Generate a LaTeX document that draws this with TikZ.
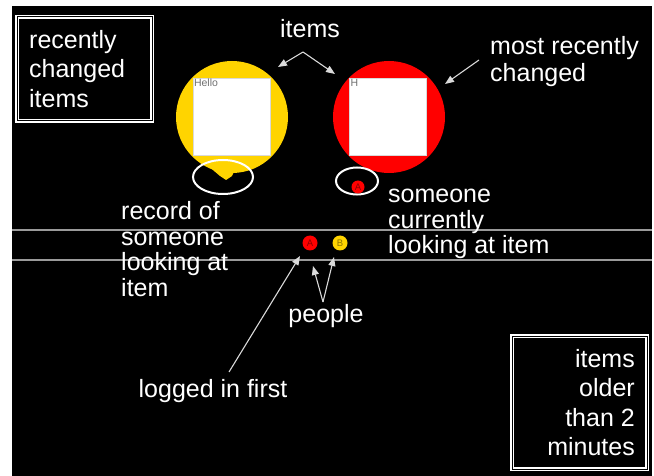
\documentclass[tikz,border=0pt]{standalone}
\usepackage{fontspec}
\setmainfont{Liberation Sans}
\usetikzlibrary{arrows.meta}
\definecolor{gold}{HTML}{FFD400}
\definecolor{itemred}{HTML}{FF0000}
\definecolor{rulegray}{HTML}{9A9A9A}
\definecolor{pointer}{HTML}{DADADA}
\definecolor{capgray}{HTML}{707070}
\begin{document}
\begin{tikzpicture}[x=1pt,y=-1pt,
  big/.style={text=white,inner sep=0pt,font=\fontsize{25}{29.5}\selectfont},
  mid/.style={text=white,inner sep=0pt,font=\fontsize{25}{25.5}\selectfont},
  frame/.style={draw=white,double=black,double distance=1pt,line width=1.1pt},
  arr/.style={draw=pointer,line width=1.1pt,-{Triangle[length=9pt,width=7pt]}},
  ring/.style={draw=white,line width=2pt},
  item/.style={circle,inner sep=0pt,minimum size=112pt},
  card/.style={fill=white,draw=black!15,line width=0.4pt,minimum width=77pt,minimum height=77pt,inner sep=0pt},
  cardtext/.style={text=capgray,inner sep=1pt,font=\fontsize{10.5}{10.5}\selectfont},
  dot/.style={circle,inner sep=0pt,minimum size=15pt,font=\fontsize{9.5}{9.5}\selectfont}
]
% page and black canvas
\useasboundingbox (0,0) rectangle (654,476);
\fill[white] (0,0) rectangle (654,476);
\fill[black] (12,6) rectangle (652,476);

% the two time-band rules
\draw[rulegray,line width=1.6pt] (12,230) -- (652,230);
\draw[rulegray,line width=1.6pt] (12,260) -- (652,260);

% framed captions
\draw[frame] (17,17) rectangle (152,121);
\node[big,anchor=north west,align=left] (recent) at (29,30) {recently\\changed\\items};
\draw[frame] (512,336) rectangle (647,469);
\node[big,anchor=north east,align=right] (older) at (635,349) {items\\older\\than 2\\minutes};

% older item (yellow) with its trailing pointer
\node[item,fill=gold] (itemY) at (232,117) {};
\fill[gold] (207,165) -- (237,165) -- (232,176) -- (226,180) -- (220,176) -- cycle;
\node[card] (cardY) at (231.5,116.5) {};
\node[cardtext,anchor=north west] (helloY) at (cardY.north west) {Hello};
\draw[ring] (223,177) ellipse [x radius=30, y radius=17];

% newest item (red)
\node[item,fill=itemred] (itemR) at (389,117) {};
\node[card] (cardR) at (388,117) {};
\node[cardtext,anchor=north west] (helloR) at (cardR.north west) {H};
\draw[ring] (357,181) ellipse [x radius=21, y radius=13.5];
\node[dot,fill=itemred,minimum size=13pt,text=itemred!55!black] (viewer) at (358,187) {A};

% people in the active band
\node[dot,fill=itemred,text=itemred!55!black] (pA) at (310,243) {A};
\node[dot,fill=gold,text=gold!55!black] (pB) at (340,243) {B};

% labels
\node[big,anchor=base] (items) at (310,38) {items};
\node[big,anchor=base west] (most) at (490,55) {most recently};
\node[big,anchor=base west] (changed) at (490,82) {changed};
\node[mid,anchor=north west,align=left] (current) at (388,189) {someone\\currently\\looking at item};
\node[mid,anchor=north west,align=left] (record) at (121,201.5) {record of\\someone\\looking at\\item};
\node[big,anchor=base] (people) at (326,322) {people};
\node[big,anchor=base] (first) at (213,397) {logged in first};

% pointer ends
\coordinate (itemsV) at (303,52);
\coordinate (tipY) at (278,67);
\coordinate (tipR) at (335,74);
\coordinate (mostS) at (479,60);
\coordinate (tipNew) at (445,84);
\coordinate (peopleV) at (323,302);
\coordinate (tipPA) at (313,266);
\coordinate (tipPB) at (334,257);
\coordinate (firstN) at (229,372);
\coordinate (tipFirst) at (300,256);

% pointers
\draw[arr] (itemsV) -- (tipY);
\draw[arr] (itemsV) -- (tipR);
\draw[arr] (mostS) -- (tipNew);
\draw[arr] (peopleV) -- (tipPA);
\draw[arr] (peopleV) -- (tipPB);
\draw[arr] (firstN) -- (tipFirst);
\end{tikzpicture}
\end{document}
